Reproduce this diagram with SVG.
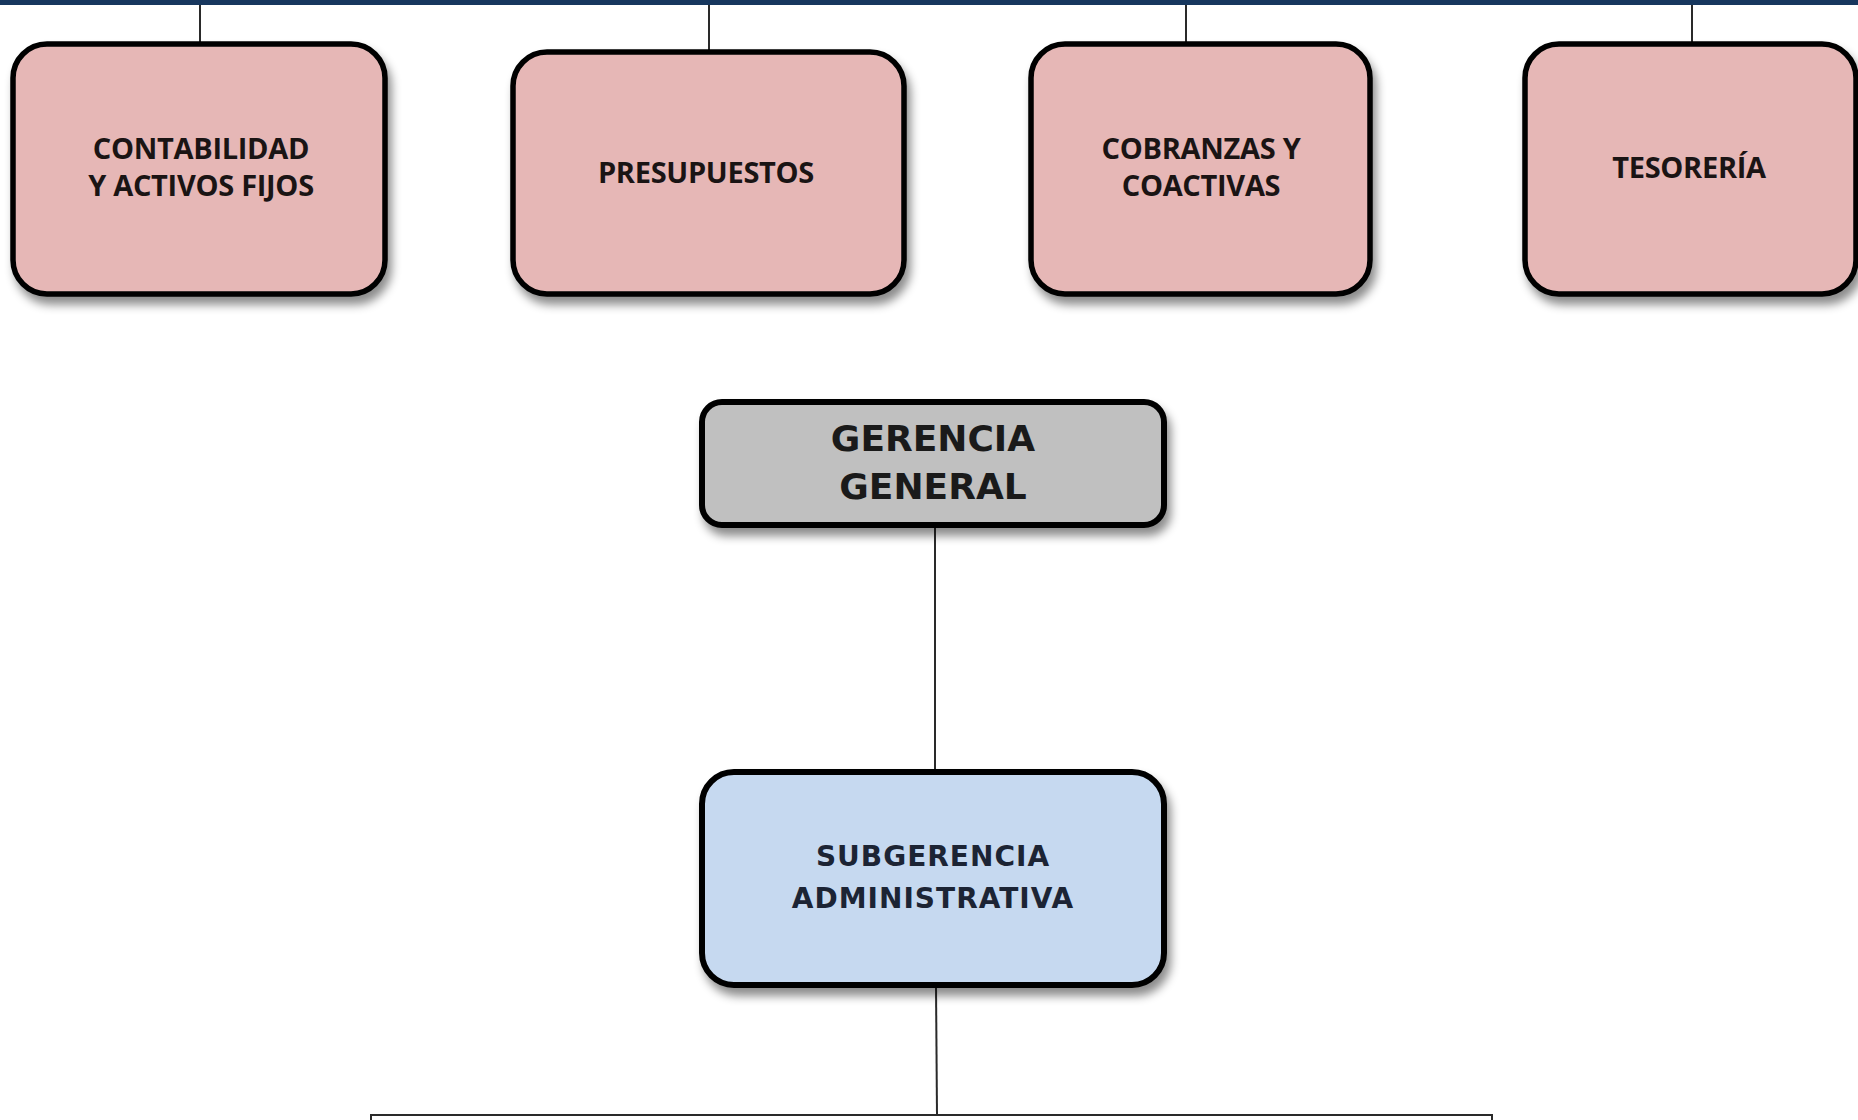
<svg xmlns="http://www.w3.org/2000/svg" width="1858" height="1120" viewBox="0 0 1858 1120">
  <defs>
    <filter id="shadow" x="-10%" y="-10%" width="125%" height="135%">
      <feDropShadow dx="4" dy="8" stdDeviation="5" flood-color="#000" flood-opacity="0.45"/>
    </filter>
  </defs>
  <style>
    .pink { fill: #e6b7b6; stroke: #000; stroke-width: 5.5; filter: url(#shadow); }
    .grey { fill: #c0c0c0; stroke: #000; stroke-width: 6; filter: url(#shadow); }
    .blue { fill: #c6d9f0; stroke: #000; stroke-width: 6; filter: url(#shadow); }
    .t1 { font-family: "Open Sans", "Liberation Sans", sans-serif; font-weight: bold; font-size: 29px; fill: #1a1414; text-anchor: middle; letter-spacing: -0.3px; }
    .t2 { font-family: "DejaVu Sans", Verdana, sans-serif; font-weight: bold; font-size: 36px; fill: #1a1a1a; text-anchor: middle; }
    .t3 { font-family: "DejaVu Sans", Verdana, sans-serif; font-weight: bold; font-size: 28px; fill: #1c2434; text-anchor: middle; letter-spacing: 1px; }
    .conn { stroke: #2a2a2a; stroke-width: 2; fill: none; }
  </style>
  <rect x="0" y="0" width="1858" height="1120" fill="#ffffff"/>
  <rect x="0" y="0" width="1858" height="5" fill="#17375e"/>

  <g id="connectors">
    <line class="conn" x1="200" y1="5" x2="200" y2="44"/>
    <line class="conn" x1="709" y1="5" x2="709" y2="52"/>
    <line class="conn" x1="1186" y1="5" x2="1186" y2="44"/>
    <line class="conn" x1="1692" y1="5" x2="1692" y2="44"/>
    <line class="conn" x1="935" y1="526" x2="935" y2="771"/>
    <line class="conn" x1="936" y1="986" x2="937" y2="1115"/>
    <path class="conn" d="M371 1120 V1115 H1492 V1120" stroke-width="3"/>
  </g>

  <g id="contabilidad">
    <rect class="pink" x="13" y="44" width="372" height="250" rx="34"/>
    <text class="t1" x="201" y="159">CONTABILIDAD</text>
    <text class="t1" x="201" y="196">Y ACTIVOS FIJOS</text>
  </g>
  <g id="presupuestos">
    <rect class="pink" x="513" y="52" width="391" height="242" rx="34"/>
    <text class="t1" x="706" y="183">PRESUPUESTOS</text>
  </g>
  <g id="cobranzas">
    <rect class="pink" x="1031" y="44" width="339" height="250" rx="34"/>
    <text class="t1" x="1201" y="159">COBRANZAS Y</text>
    <text class="t1" x="1201" y="196">COACTIVAS</text>
  </g>
  <g id="tesoreria">
    <rect class="pink" x="1525" y="44" width="331" height="250" rx="34"/>
    <text class="t1" x="1689" y="178">TESORERÍA</text>
  </g>
  <g id="gerencia-general">
    <rect class="grey" x="702" y="402" width="462" height="123" rx="20"/>
    <text class="t2" x="933" y="451">GERENCIA</text>
    <text class="t2" x="933" y="499">GENERAL</text>
  </g>
  <g id="subgerencia-administrativa">
    <rect class="blue" x="702" y="772" width="462" height="213" rx="32"/>
    <text class="t3" x="933" y="866">SUBGERENCIA</text>
    <text class="t3" x="933" y="908">ADMINISTRATIVA</text>
  </g>
</svg>
